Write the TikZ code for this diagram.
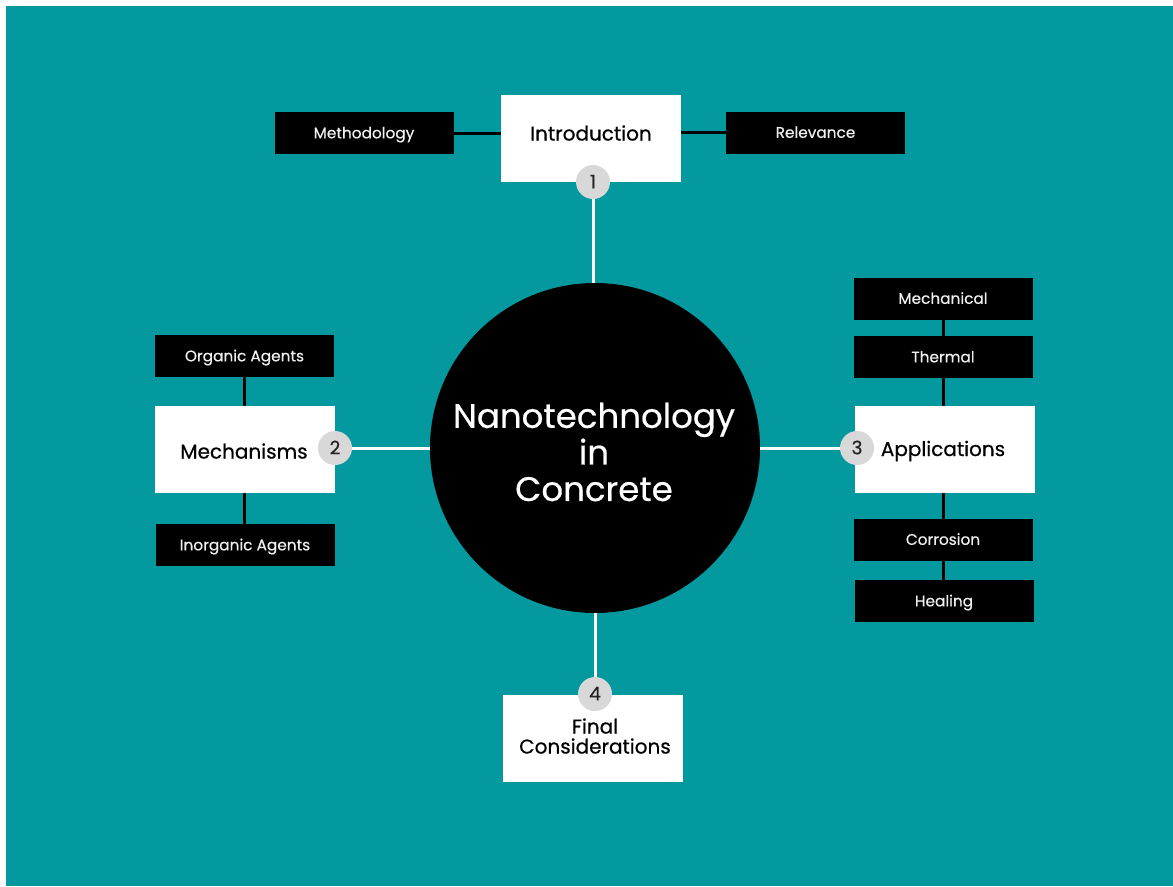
\documentclass[tikz,border=0pt]{standalone}
\usepackage{fontspec}
\setmainfont{Poppins}[FakeBold=0.5]
\definecolor{bgteal}{RGB}{4,153,159}
\definecolor{badgegray}{RGB}{216,216,216}
\definecolor{badgetext}{RGB}{35,35,35}
\definecolor{boxtext}{RGB}{240,240,240}
\begin{document}
\begin{tikzpicture}[x=0.75pt,y=-0.75pt,
  wbox/.style={fill=white,draw=none,inner sep=0pt,outer sep=0pt,minimum width=135pt,minimum height=65.25pt},
  wtext/.style={inner sep=0pt,align=center,font=\fontsize{15}{15}\selectfont,text=black},
  bbox/.style={fill=black,draw=none,inner sep=0pt,outer sep=0pt,minimum width=134.25pt,minimum height=31.5pt,text height=8pt,text depth=0pt,font=\fontsize{11.5}{12}\selectfont,text=boxtext},
  badge/.style={circle,fill=badgegray,draw=none,inner sep=0pt,outer sep=0pt,minimum size=25.5pt,text height=9.5pt,text depth=0pt,font=\fontsize{14}{14}\selectfont,text=badgetext},
  hub/.style={circle,fill=black,draw=none,inner sep=0pt,outer sep=0pt,minimum size=247.5pt},
  hubtext/.style={inner sep=0pt,align=center,text=white,font=\fontsize{25.5}{27.4}\selectfont},
  wline/.style={draw=white,line width=2.25pt},
  kline/.style={draw=black,line width=2.25pt}]
\fill[white] (0,0) rectangle (1173,886);
\fill[bgteal] (6,6) rectangle (1173,886);
% hub
\node[hub] (hub) at (595,448) {};
\node[hubtext] (hubtxt) at (594,452) {Nanotechnology\\in\\Concrete};
% white boxes
\node[wbox] (intro) at (591,138) {};
\node[wtext] (introtxt) at (591,133) {Introduction};
\node[wbox] (mech) at (245,449) {};
\node[wtext] (mechtxt) at (244,451) {Mechanisms};
\node[wbox] (app) at (944.5,449) {};
\node[wtext] (apptxt) at (943,451) {Applications};
\node[wbox] (final) at (593,738) {};
\node[wtext] (finaltxt) at (595,736) {Final\\Considerations};
% black boxes
\node[bbox] (meth) at (364,133) {Methodology};
\node[bbox] (rel) at (815.5,132.5) {Relevance};
\node[bbox] (org) at (244.5,356) {Organic Agents};
\node[bbox] (inorg) at (245,545) {Inorganic Agents};
\node[bbox] (mechan) at (943,298.5) {Mechanical};
\node[bbox] (therm) at (943,357) {Thermal};
\node[bbox] (corr) at (943,539.5) {Corrosion};
\node[bbox] (heal) at (944,601) {Healing};
% badges
\node[badge] (b1) at (593,182) {1};
\node[badge] (b2) at (335,448) {2};
\node[badge] (b3) at (857,448) {3};
\node[badge] (b4) at (595,694) {4};
% white connectors
\draw[wline] (b1.south) -- (b1.south |- hub.north);
\draw[wline] (b2.east) -- (b2.east -| hub.west);
\draw[wline] (hub.east) -- (hub.east -| b3.west);
\draw[wline] (hub.south) -- (b4.north);
% black connectors
\draw[kline] (meth.east) -- (meth.east -| intro.west);
\draw[kline] (intro.east |- rel.west) -- (rel.west);
\draw[kline] (org.south) -- (org.south |- mech.north);
\draw[kline] (mech.south -| org.south) -- (org.south |- inorg.north);
\draw[kline] (mechan.south) -- (therm.north);
\draw[kline] (therm.south) -- (therm.south |- app.north);
\draw[kline] (therm.south |- app.south) -- (corr.north);
\draw[kline] (corr.south) -- (corr.south |- heal.north);
\end{tikzpicture}
\end{document}
